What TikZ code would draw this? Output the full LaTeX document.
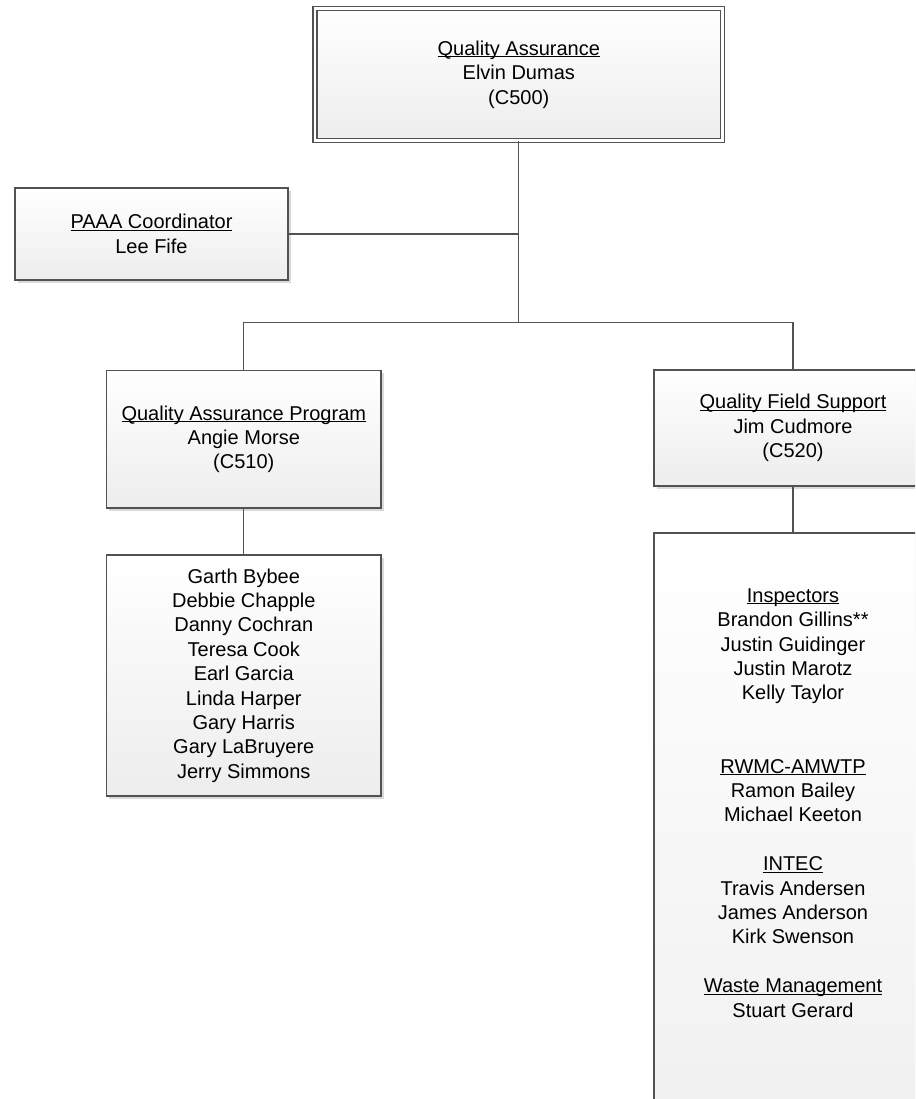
\documentclass[tikz,border=0pt]{standalone}
\usepackage{fontspec}
\setmainfont{Liberation Sans}
\usetikzlibrary{positioning,shadows}

% underlined group heading, rule close to the baseline
\newcommand{\uhead}[1]{\setbox0\hbox{#1}\rlap{\rule[-1.6pt]{\wd0}{0.75pt}}\box0}

\begin{document}
\begin{tikzpicture}[x=0.75pt,y=-0.75pt,
	orgbox/.style={draw=black!68, line width=1pt, top color=white, bottom color=black!7,
		drop shadow={shadow xshift=2pt,shadow yshift=-2pt,fill=black!25,opacity=0.6},
		inner sep=0pt, align=center, font=\fontsize{15pt}{18.3pt}\selectfont},
	listtext/.style={inner sep=0pt, align=center, font=\fontsize{15pt}{18.3pt}\selectfont},
	link/.style={draw=black!68, line width=1pt}]

	\useasboundingbox (0,0) rectangle (915,1099);
	\clip (0,0) rectangle (915,1099);

	% Head of the office
	\node[orgbox, double=white, double distance=2pt, minimum width=305.8pt, minimum height=99.3pt]
		(qa) at (518.8,74.5) {\uhead{Quality Assurance}\\ Elvin Dumas\\ (C500)};

	% Staff position
	\node[orgbox, minimum width=204.75pt, minimum height=69pt]
		(paaa) at (151.5,234) {\uhead{PAAA Coordinator}\\ Lee Fife};

	% Left branch
	\node[orgbox, minimum width=205.7pt, minimum height=103pt]
		(qap) at (243.8,439.3) {\uhead{Quality Assurance Program}\\ Angie Morse\\ (C510)};
	\node[orgbox, minimum width=205.7pt, minimum height=180.75pt]
		(names) at (243.8,675.5) {Garth Bybee\\ Debbie Chapple\\ Danny Cochran\\ Teresa Cook\\
		Earl Garcia\\ Linda Harper\\ Gary Harris\\ Gary LaBruyere\\ Jerry Simmons};

	% Right branch
	\node[orgbox, minimum width=208.5pt, minimum height=87pt]
		(qfs) at (793,428) {\uhead{Quality Field Support}\\ Jim Cudmore\\ (C520)};
	\node[orgbox, anchor=north, minimum width=208.5pt, minimum height=525pt]
		(fieldbox) at (793,532.3) {};
	\node[listtext, below=42pt of fieldbox.north] (fieldlist)
		{\uhead{Inspectors}\\ Brandon Gillins**\\ Justin Guidinger\\ Justin Marotz\\ Kelly Taylor\\[36.6pt]
		\uhead{RWMC-AMWTP}\\ Ramon Bailey\\ Michael Keeton\\[18.3pt]
		\uhead{INTEC}\\ Travis Andersen\\ James Anderson\\ Kirk Swenson\\[18.3pt]
		\uhead{Waste Management}\\ Stuart Gerard};

	% Connectors
	\coordinate (split) at (518.8,322.7);
	\draw[link] (qa.south) -- (split);
	\draw[link] (paaa.east) -- (paaa.east -| split);
	\draw[link] (qap.north) |- (split) -| (qfs.north);
	\draw[link] (qap.south) -- (names.north);
	\draw[link] (qfs.south) -- (fieldbox.north);

\end{tikzpicture}
\end{document}
